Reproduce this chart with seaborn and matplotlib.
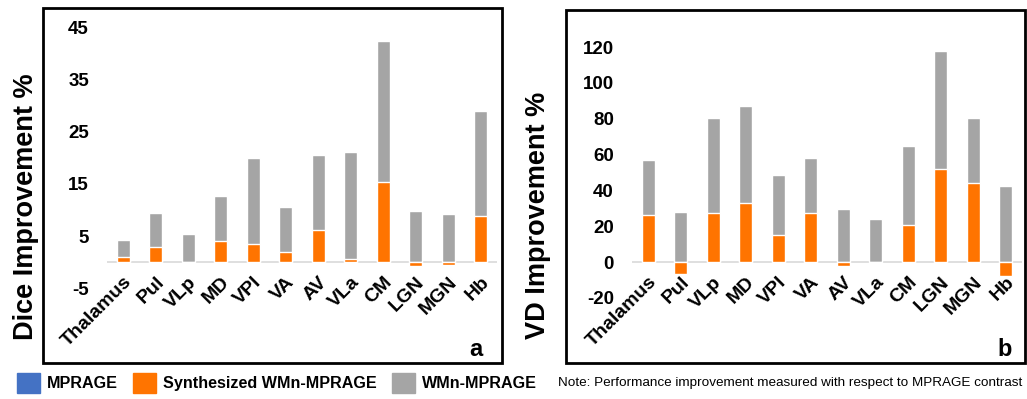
import matplotlib
matplotlib.use("Agg")
import matplotlib.pyplot as plt
from matplotlib.patches import Patch, Rectangle
import seaborn as sns

sns.set_style("white")
plt.rcParams['font.family'] = ['Liberation Sans', 'DejaVu Sans']
plt.rcParams.update({'text.color': 'black', 'axes.labelcolor': 'black',
                     'xtick.color': 'black', 'ytick.color': 'black'})

regions = ['Thalamus', 'Pul', 'VLp', 'MD', 'VPl', 'VA', 'AV', 'VLa', 'CM', 'LGN', 'MGN', 'Hb']

# Dice improvement % (relative to MPRAGE)
dice_mprage = [0] * 12
dice_synth = [1.0, 2.8, 0.0, 4.0, 3.5, 1.9, 6.2, 0.5, 15.4, -0.7, -0.5, 8.8]
dice_wmn = [4.2, 9.4, 5.4, 12.7, 20.0, 10.6, 20.6, 21.2, 42.5, 9.9, 9.2, 29.0]

# VD improvement % (relative to MPRAGE)
vd_mprage = [0] * 12
vd_synth = [26.3, -6.7, 27.4, 33.0, 15.1, 27.4, -2.0, 0.0, 20.7, 52.0, 44.1, -7.8]
vd_wmn = [57.0, 27.9, 80.4, 87.2, 48.6, 58.1, 29.6, 24.0, 64.8, 117.9, 80.4, 42.5]

dice_ticks = [-5, 5, 15, 25, 35, 45]
vd_ticks = [-20, 0, 20, 40, 60, 80, 100, 120]

blue = '#4472C4'
orange = '#FF7400'
grey = '#A5A5A5'

fig = plt.figure(figsize=(10.27, 3.99), dpi=100)
ax1 = fig.add_axes([107 / 1027, 99 / 399, 390 / 1027, 282 / 399])
ax2 = fig.add_axes([632 / 1027, 99 / 399, 390 / 1027, 282 / 399])

panels = [
    (ax1, dice_mprage, dice_synth, dice_wmn, dice_ticks, (-7.3, 46.9), 'Dice Improvement %'),
    (ax2, vd_mprage, vd_synth, vd_wmn, vd_ticks, (-21.2, 136.3), 'VD Improvement %'),
]

for ax, mp, syn, wmn, ticks, ylim, ylabel in panels:
    sns.barplot(x=regions, y=mp, color=blue, width=0.41, saturation=1, ax=ax)
    sns.barplot(x=regions, y=wmn, color=grey, width=0.41, saturation=1, ax=ax)
    sns.barplot(x=regions, y=syn, color=orange, width=0.41, saturation=1, ax=ax)
    ax.axhline(0, color='#D9D9D9', lw=1.2, zorder=0.5)
    ax.set_xlim(-0.5, 11.5)
    ax.set_ylim(*ylim)
    ax.set_yticks(ticks)
    ax.set_yticklabels([str(t) for t in ticks], fontsize=13.5, fontweight='bold')
    ax.set_xticks(range(len(regions)))
    ax.set_xticklabels(regions, fontsize=14, fontweight='bold', rotation=45,
                       ha='right', va='top', rotation_mode='anchor')
    ax.tick_params(axis='y', length=0, pad=13)
    ax.tick_params(axis='x', length=0, pad=-19)
    ax.set_ylabel(ylabel, fontsize=19.5, fontweight='bold')
    for s in ax.spines.values():
        s.set_visible(False)
    ax.set_facecolor('none')

ax1.yaxis.set_label_coords(-68 / 390, 0.33)
ax2.yaxis.set_label_coords(-81 / 390, 0.30)

# panel boxes
for x0, x1, y0, y1 in [(43, 502, 8, 363), (566, 1025, 10, 363)]:
    fig.patches.append(Rectangle((x0 / 1027, 1 - y1 / 399), (x1 - x0) / 1027, (y1 - y0) / 399,
                                 transform=fig.transFigure, fill=False, ec='black', lw=2))

fig.text(476 / 1027, 1 - 349 / 399, 'a', fontsize=17, fontweight='bold', ha='center', va='center')
fig.text(1005 / 1027, 1 - 349 / 399, 'b', fontsize=17, fontweight='bold', ha='center', va='center')

handles = [Patch(color=blue), Patch(color=orange), Patch(color=grey)]
fig.legend(handles, ['MPRAGE', 'Synthesized WMn-MPRAGE', 'WMn-MPRAGE'], ncol=3,
           loc='center left', bbox_to_anchor=(17 / 1027, 1 - 383 / 399), frameon=False,
           prop={'weight': 'bold', 'size': 11.6},
           handlelength=1.4, handleheight=1.45, handletextpad=0.45, columnspacing=0.95,
           borderaxespad=0, borderpad=0)

fig.text(1022 / 1027, 1 - 383 / 399, 'Note: Performance improvement measured with respect to MPRAGE contrast',
         fontsize=9.7, ha='right', va='center')

fig.savefig('out.png', dpi=100)
